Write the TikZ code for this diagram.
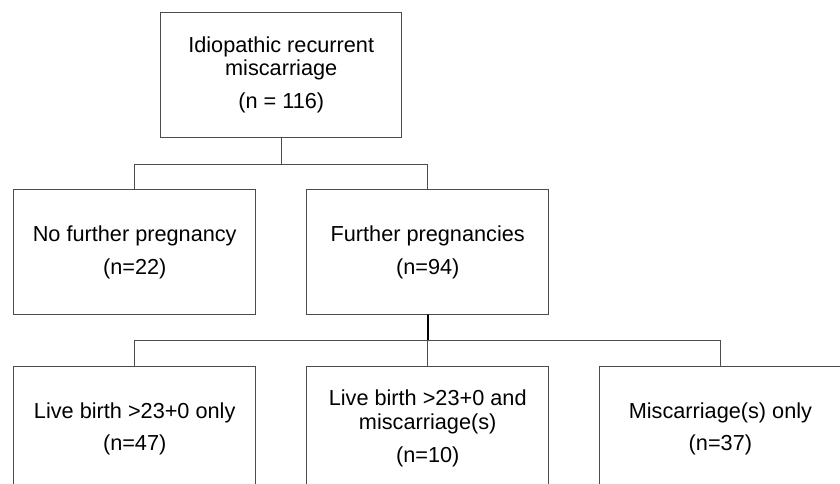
\documentclass[tikz,border=0pt]{standalone}
\usepackage{fontspec}
\setmainfont{Liberation Sans}
\usepackage{tikz}

\begin{document}
\begin{tikzpicture}[line cap=round,line join=miter,x=1pt,y=-1pt,
    box/.style={draw=black!70,line width=1pt,minimum width=241.5pt,minimum height=125pt,
        inner sep=0pt,align=center,font=\fontsize{21.7}{23.3}\selectfont},
    conn/.style={draw=black!70,line width=1pt},
    stem/.style={draw=black,line width=1.6pt}]
        \useasboundingbox (0,0) rectangle (840,484);
        \clip (0,0) rectangle (840,484);
        \node [box] (top) at (281.2,75) {Idiopathic recurrent\\miscarriage\\[9.7pt](n = 116)};
        \node [box] (nofurther) at (134.7,252) {No further pregnancy\\[9.7pt](n=22)};
        \node [box] (further) at (427.7,252) {Further pregnancies\\[9.7pt](n=94)};
        \node [box] (lbonly) at (134.7,428.5) {Live birth >23+0 only\\[8.7pt](n=47)};
        \node [box] (lbmisc) at (427.7,428.5) {Live birth >23+0 and\\miscarriage(s)\\[9.7pt](n=10)};
        \node [box] (misconly) at (720.4,428.5) {Miscarriage(s) only\\[8.7pt](n=37)};
        \draw [conn] (top.south) -- ++(0,26.25) -| (nofurther.north);
        \draw [conn] (top.south) -- ++(0,26.25) -| (further.north);
        \draw [stem] (further.south) -- ++(0,25.6) coordinate (split);
        \draw [conn] (split) -| (lbonly.north);
        \draw [conn] (split) -| (misconly.north);
        \draw [conn] (split) -- (lbmisc.north);
\end{tikzpicture}
\end{document}
